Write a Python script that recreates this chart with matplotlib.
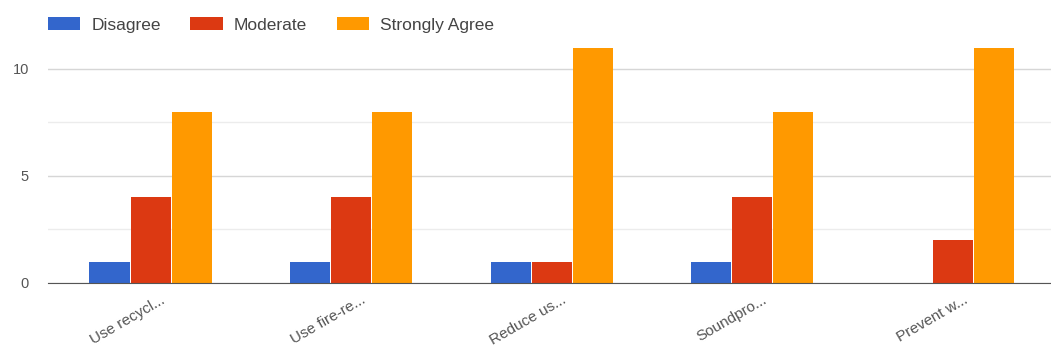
import numpy as np
import matplotlib.pyplot as plt
from matplotlib.ticker import MultipleLocator

plt.rcParams['font.family'] = ['Liberation Sans', 'DejaVu Sans']

# данные
categories = ["Use recycl...", "Use fire-re...", "Reduce us...", "Soundpro...", "Prevent w..."]
disagree = [1, 1, 1, 1, 0]
moderate = [4, 4, 1, 4, 2]
strongly_agree = [8, 8, 11, 8, 11]

series = [("Disagree", disagree, "#3366cc"),
          ("Moderate", moderate, "#dc3912"),
          ("Strongly Agree", strongly_agree, "#ff9900")]

fig = plt.figure(figsize=(10.51, 3.51), dpi=100)
ax = fig.add_axes([0.046, 0.194, 0.954, 0.692])

x = np.arange(len(categories))
w = 0.2
step = 0.205
for i, (name, vals, col) in enumerate(series):
    ax.bar(x + (i - 1) * step + 0.01, vals, width=w, color=col, label=name, zorder=3)

ax.set_xlim(-0.5, len(categories) - 0.5)
ax.set_ylim(0, 11.35)
ax.yaxis.set_major_locator(MultipleLocator(5))
ax.yaxis.set_minor_locator(MultipleLocator(2.5))
ax.grid(axis='y', which='major', color='#d6d6d6', linewidth=1, zorder=0)
ax.grid(axis='y', which='minor', color='#ececec', linewidth=1, zorder=0)

for s in ['top', 'right', 'left']:
    ax.spines[s].set_visible(False)
ax.spines['bottom'].set_color('#555555')
ax.spines['bottom'].set_zorder(4)

ax.tick_params(axis='both', which='both', length=0, colors='#555555', labelsize=10.5)
ax.tick_params(axis='y', pad=14)
ax.tick_params(axis='x', pad=7, labelsize=11)
ax.set_xticks(x + 0.06)
ax.set_xticklabels(categories, rotation=30, ha='right', rotation_mode='anchor')

fig.legend(loc='center left', bbox_to_anchor=(48 / 1051, 1 - 25 / 351), ncol=3,
           frameon=False, borderaxespad=0, borderpad=0,
           prop={'size': 12.5}, handlelength=1.85, handleheight=0.7,
           handletextpad=0.65, columnspacing=1.7, labelcolor='#444444')

fig.savefig("out.png", dpi=100)
